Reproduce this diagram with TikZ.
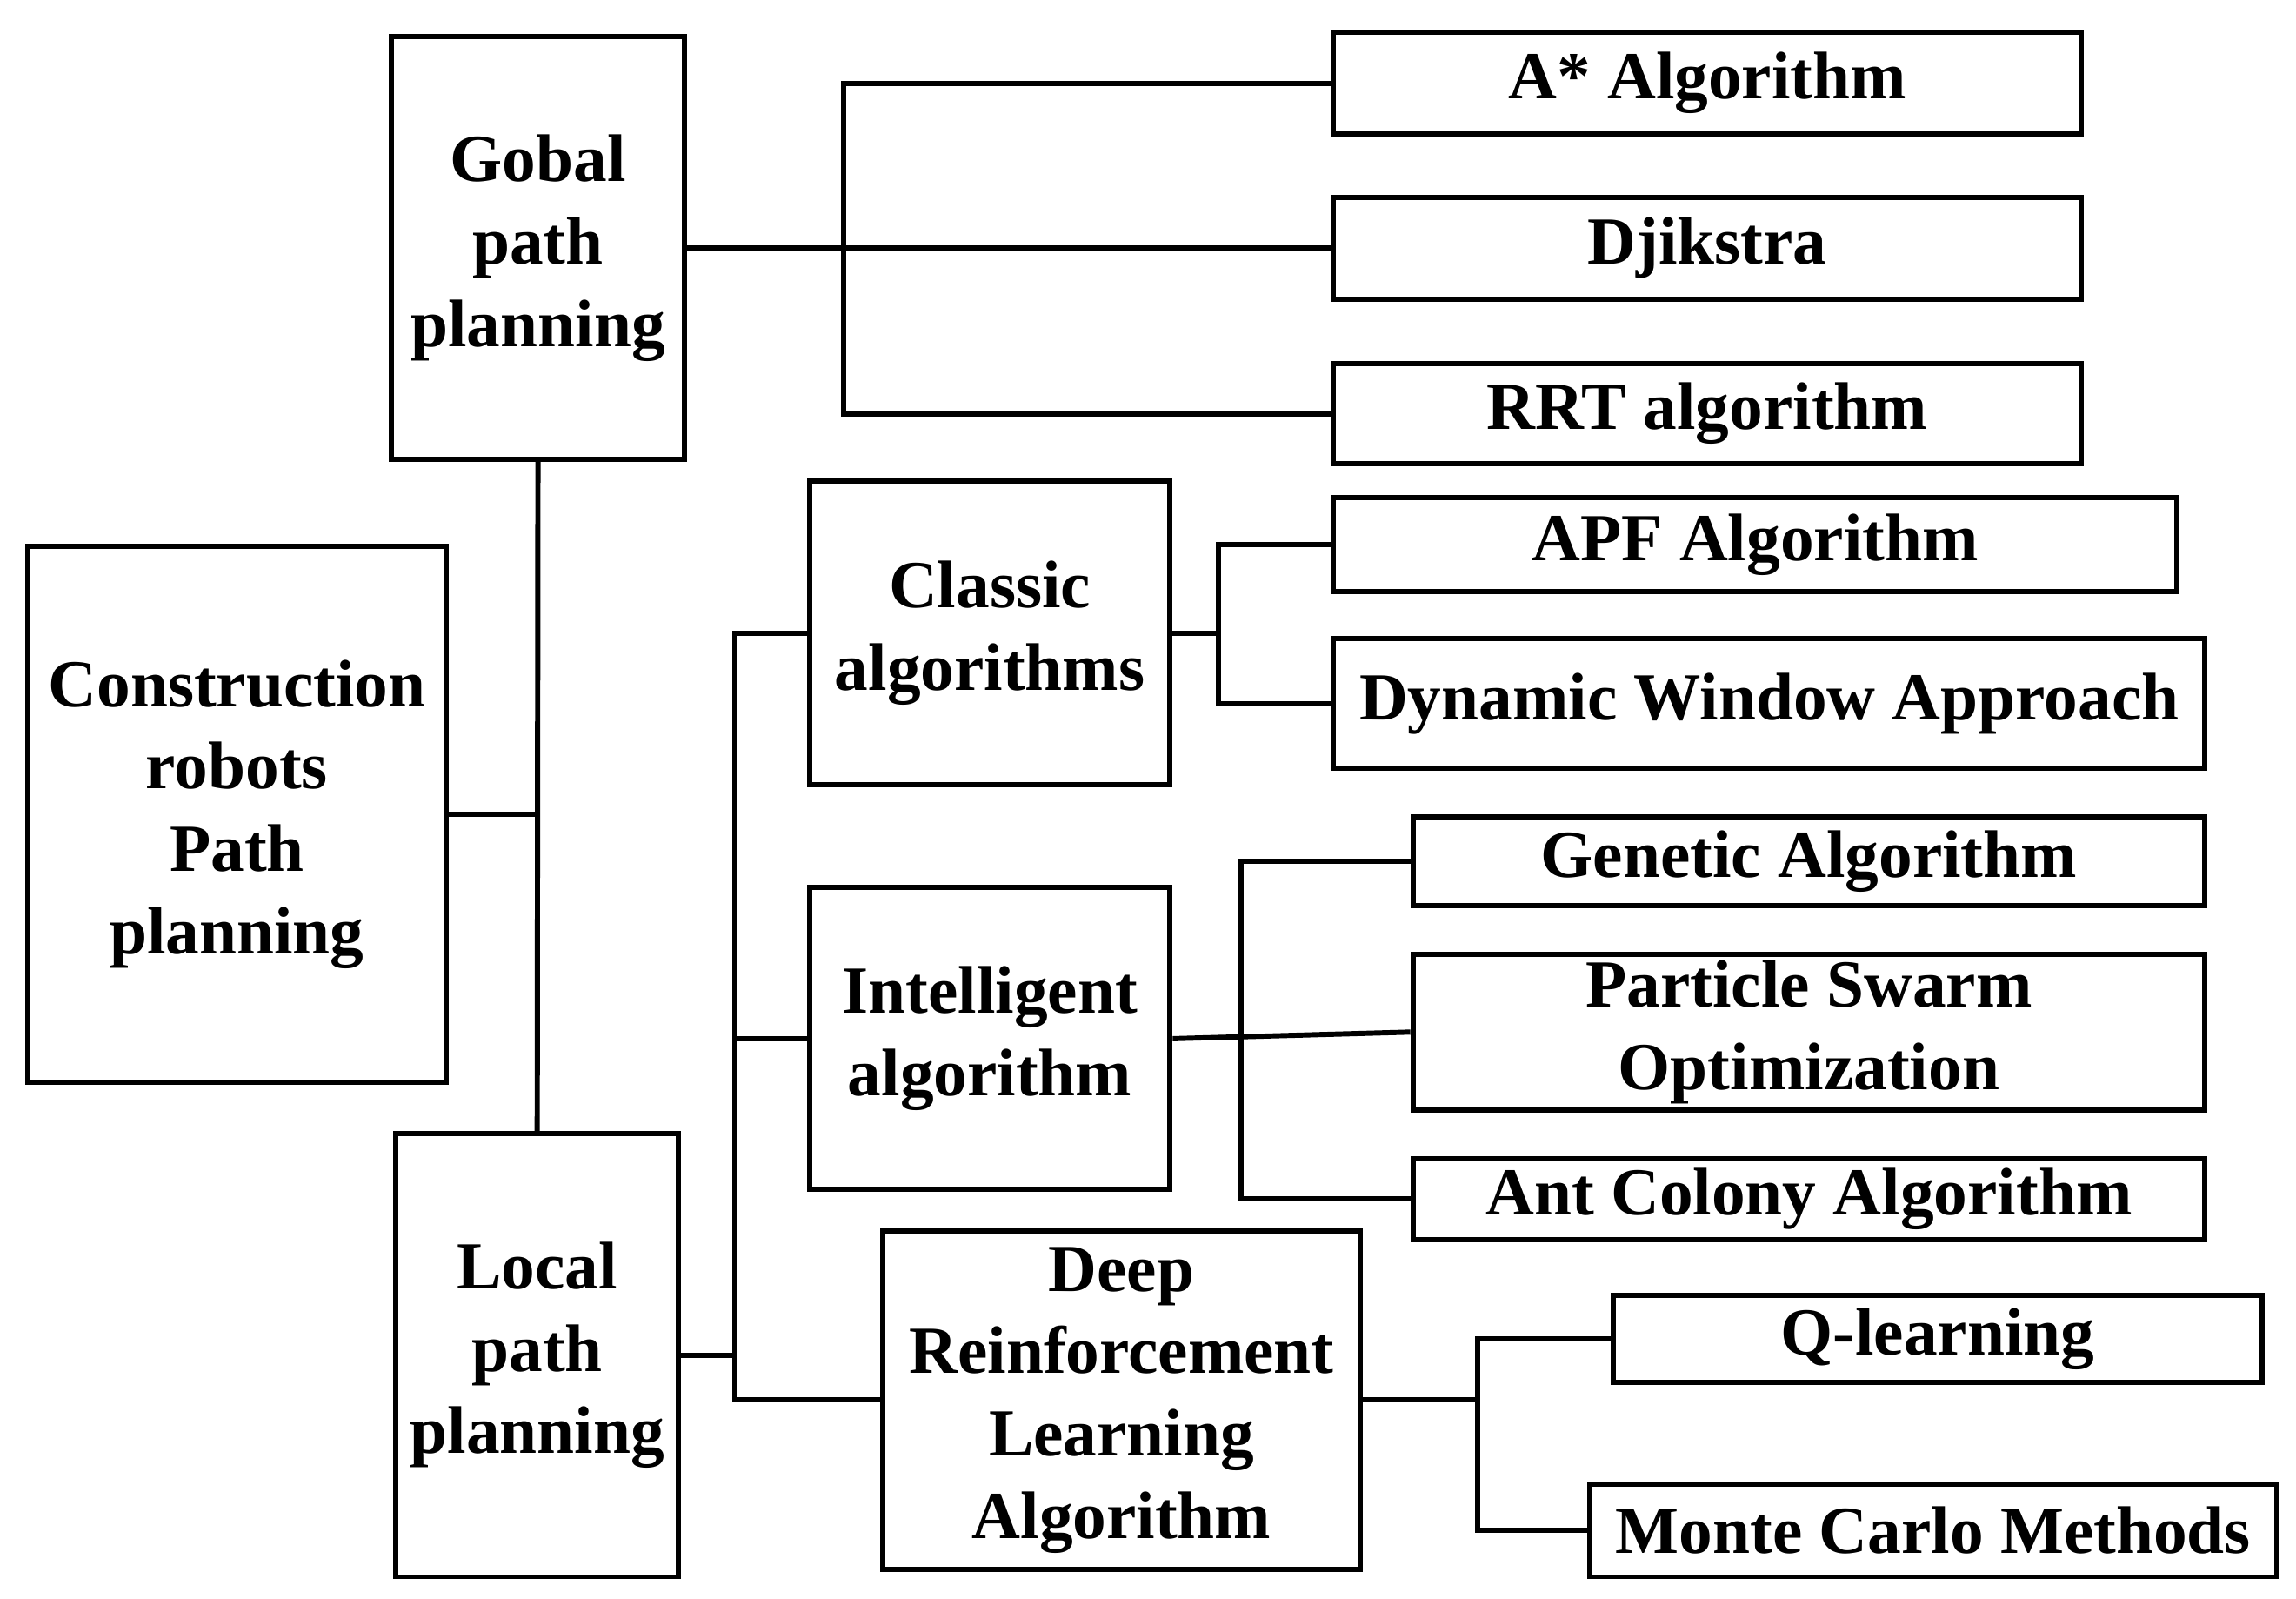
\documentclass[tikz,border=0pt]{standalone}
\usepackage{fontspec}
\setmainfont{Liberation Serif}
\begin{document}
\begin{tikzpicture}[line width=1pt,
  box/.style={draw, inner sep=0pt, align=center, font=\fontsize{13}{15.9}\selectfont\bfseries}]
\useasboundingbox (0,0) rectangle (15.6,-10.86);
% main column
\node[box, minimum width=1.99cm, minimum height=2.87cm] (gob) at (3.655,-1.685) {Gobal\\path\\planning};
\node[box, minimum width=2.84cm, minimum height=3.64cm] (con) at (1.61,-5.53) {Construction\\robots\\Path\\planning};
\node[box, minimum width=1.92cm, minimum height=3.01cm] (loc) at (3.65,-9.205) {Local\\path\\planning};
% global methods
\node[box, minimum width=5.08cm, minimum height=0.69cm] (astar) at (11.6,-0.565) {A* Algorithm};
\node[box, minimum width=5.08cm, minimum height=0.69cm] (dji) at (11.6,-1.685) {Djikstra};
\node[box, minimum width=5.08cm, minimum height=0.68cm] (rrt) at (11.6,-2.81) {RRT algorithm};
% local groups
\node[box, minimum width=2.45cm, minimum height=2.06cm] (cla) at (6.725,-4.30) {Classic\\algorithms};
\node[box, minimum width=2.45cm, minimum height=2.05cm] (int) at (6.725,-7.055) {Intelligent\\algorithm};
\node[box, minimum width=3.24cm, minimum height=2.30cm] (drl) at (7.62,-9.51) {Deep\\Reinforcement\\Learning\\Algorithm};
% leaves
\node[box, minimum width=5.73cm, minimum height=0.64cm] (apf) at (11.925,-3.70) {APF Algorithm};
\node[box, minimum width=5.92cm, minimum height=0.88cm] (dwa) at (12.02,-4.78) {Dynamic Window Approach};
\node[box, minimum width=5.38cm, minimum height=0.60cm] (gen) at (12.29,-5.85) {Genetic Algorithm};
\node[box, minimum width=5.38cm, minimum height=1.06cm] (pso) at (12.29,-7.01) {Particle Swarm\\Optimization};
\node[box, minimum width=5.38cm, minimum height=0.55cm] (ant) at (12.29,-8.145) {Ant Colony Algorithm};
\node[box, minimum width=4.41cm, minimum height=0.59cm] (ql) at (13.165,-9.095) {Q-learning};
\node[box, minimum width=4.67cm, minimum height=0.63cm] (mc) at (13.135,-10.395) {Monte Carlo Methods};
% bracket positions
\coordinate (b1) at (5.73,0);
\coordinate (b2) at (4.99,0);
\coordinate (b3) at (8.28,0);
\coordinate (b4) at (8.43,0);
\coordinate (b5) at (10.04,0);
% connectors
\draw (gob.south) -- (loc.north);
\draw (con.east) -- (con.east -| gob.south);
\draw (gob.east) -- (dji.west);
\draw (astar.west) -| (b1 |- rrt.west) -- (rrt.west);
\draw (loc.east) -- (loc.east -| b2);
\draw (cla.west) -| (b2 |- drl.west) -- (drl.west);
\draw (int.west) -- (int.west -| b2);
\draw (cla.east) -- (cla.east -| b3);
\draw (apf.west) -| (b3 |- dwa.west) -- (dwa.west);
\draw (int.east) -- (pso.west);
\draw (gen.west) -| (b4 |- ant.west) -- (ant.west);
\draw (drl.east) -- (drl.east -| b5);
\draw (ql.west) -| (b5 |- mc.west) -- (mc.west);
\end{tikzpicture}
\end{document}
